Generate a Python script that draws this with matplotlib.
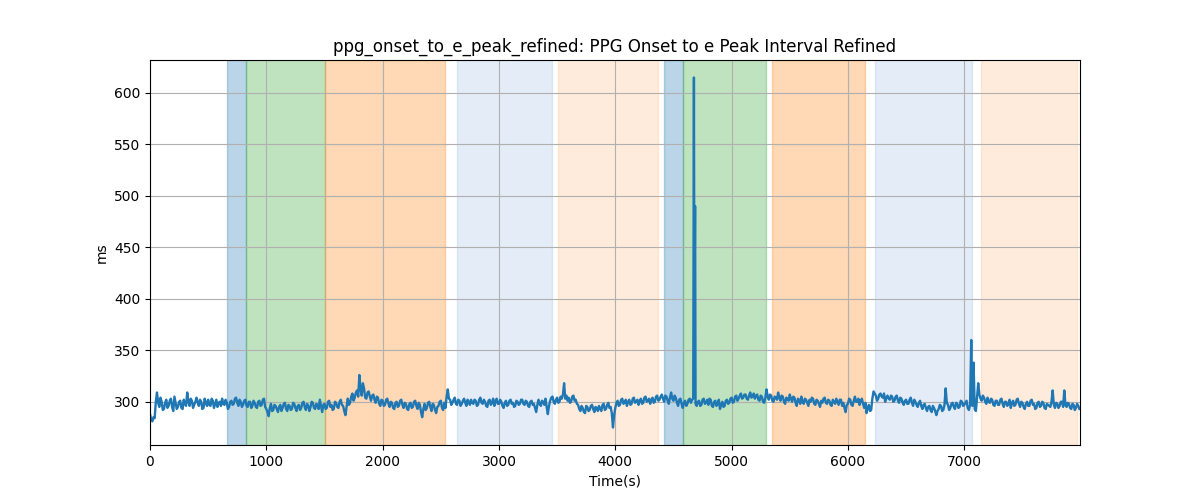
import numpy as np
import matplotlib
matplotlib.use('Agg')
import matplotlib.pyplot as plt

# ── Data ─────────────────────────────────────────────────────────────────────
STEP = 20  # seconds between samples in each list; the "mid" list is offset by 10 s
values = [
    288, 281, 284, 309, 295, 300, 293, 302, 296, 303, 291, 299, 295, 301, 293, 298, 309, 296, 301, 297,
    304, 296, 300, 294, 299, 302, 296, 301, 298, 295, 300, 303, 297, 299, 295, 301, 298, 304, 296, 300,
    297, 302, 295, 300, 296, 299, 294, 301, 297, 303, 293, 286, 298, 292, 296, 290, 297, 294, 299, 291,
    296, 293, 298, 291, 297, 294, 300, 292, 296, 295, 299, 293, 297, 302, 290, 298, 294, 301, 297, 293,
    299, 294, 302, 296, 287, 303, 299, 308, 304, 311, 326, 306, 313, 303, 310, 301, 307, 299, 304, 296,
    301, 297, 303, 295, 299, 293, 300, 296, 302, 294, 298, 292, 299, 295, 301, 293, 297, 285, 298, 294,
    300, 291, 297, 289, 296, 301, 292, 294, 312, 302, 299, 304, 297, 301, 298, 303, 296, 300, 302, 298,
    301, 297, 304, 298, 300, 295, 302, 299, 296, 303, 298, 300, 294, 301, 297, 302, 299, 296, 300, 298,
    302, 297, 300, 295, 301, 298, 290, 302, 296, 300, 303, 288, 301, 305, 298, 304, 300, 303, 318, 306,
    304, 300, 306, 302, 297, 291, 294, 289, 295, 292, 297, 290, 294, 296, 291, 298, 293, 299, 295, 275,
    294, 301, 297, 303, 299, 296, 302, 298, 304, 300, 297, 303, 299, 305, 301, 298, 304, 300, 306, 302,
    307, 300, 305, 298, 309, 301, 304, 296, 303, 294, 301, 298, 303, 302, 372, 296, 301, 297, 303, 299,
    297, 302, 295, 301, 298, 293, 300, 296, 302, 299, 304, 300, 306, 303, 308, 304, 307, 302, 309, 305,
    303, 307, 301, 305, 299, 312, 302, 306, 300, 304, 309, 301, 305, 298, 303, 307, 300, 304, 296, 302,
    305, 298, 302, 296, 300, 303, 297, 301, 295, 299, 304, 298, 301, 296, 300, 303, 297, 302, 299, 290,
    298, 302, 296, 305, 300, 297, 303, 294, 289, 297, 292, 310, 306, 303, 308, 304, 300, 306, 302, 305,
    301, 306, 299, 303, 297, 302, 298, 304, 296, 300, 295, 301, 293, 298, 291, 296, 290, 294, 287, 293,
    296, 292, 313, 297, 294, 299, 293, 298, 295, 300, 297, 301, 292, 360, 338, 291, 318, 303, 306, 300,
    304, 299, 302, 296, 301, 297, 303, 295, 300, 298, 294, 301, 297, 303, 295, 299, 293, 300, 296, 302,
    298, 294, 300, 296, 299, 293, 297, 295, 311, 294, 298, 296, 300, 311, 295, 298, 293, 297, 294, 296,
]
values_mid = [
    283, 285, 300, 299, 304, 292, 299, 294, 301, 295, 305, 293, 300, 294, 302, 296, 300, 303, 294, 300,
    299, 302, 293, 303, 296, 297, 303, 294, 302, 299, 296, 298, 302, 293, 300, 297, 303, 299, 302, 295,
    301, 296, 300, 294, 301, 295, 300, 296, 302, 295, 290, 294, 291, 297, 293, 295, 291, 298, 293, 297,
    292, 299, 294, 296, 292, 299, 295, 298, 291, 300, 294, 298, 293, 296, 297, 293, 300, 295, 292, 300,
    295, 300, 297, 291, 295, 297, 305, 301, 309, 305, 312, 318, 304, 309, 305, 306, 302, 305, 298, 302,
    296, 302, 298, 300, 294, 299, 295, 301, 297, 299, 293, 298, 294, 300, 296, 299, 290, 293, 292, 299,
    295, 298, 292, 295, 300, 294, 299, 305, 303, 297, 302, 298, 302, 296, 301, 299, 302, 297, 299, 302,
    296, 302, 299, 302, 296, 301, 297, 303, 300, 298, 302, 296, 299, 296, 301, 298, 295, 301, 297, 302,
    298, 301, 296, 300, 297, 294, 297, 298, 301, 297, 295, 296, 304, 300, 302, 299, 305, 307, 303, 301,
    299, 305, 301, 298, 293, 296, 290, 296, 291, 296, 293, 295, 291, 293, 297, 292, 297, 294, 289, 287,
    299, 296, 302, 298, 302, 300, 297, 303, 299, 302, 301, 298, 304, 300, 303, 302, 299, 305, 301, 305,
    303, 306, 301, 304, 303, 306, 299, 302, 298, 299, 296, 302, 299, 303, 298, 300, 296, 302, 298, 302,
    303, 296, 300, 296, 302, 297, 295, 301, 298, 303, 299, 305, 301, 306, 303, 307, 303, 306, 304, 308,
    306, 302, 306, 300, 304, 305, 307, 301, 305, 302, 304, 306, 300, 304, 301, 303, 305, 299, 303, 298,
    300, 303, 299, 302, 304, 298, 302, 298, 301, 303, 299, 302, 297, 302, 298, 300, 302, 296, 294, 297,
    303, 297, 301, 300, 303, 301, 298, 299, 294, 291, 303, 308, 301, 307, 305, 308, 304, 303, 306, 300,
    305, 301, 304, 299, 301, 298, 302, 299, 302, 297, 299, 296, 297, 294, 295, 292, 296, 291, 291, 297,
    291, 297, 299, 292, 298, 295, 299, 294, 301, 296, 299, 294, 297, 296, 293, 305, 307, 301, 304, 298,
    300, 303, 297, 301, 297, 302, 298, 300, 296, 302, 299, 296, 302, 298, 300, 295, 298, 296, 301, 297,
    293, 299, 295, 300, 294, 298, 296, 300, 297, 299, 294, 300, 295, 297, 299, 294, 298, 292, 298, 293,
]
# artefact spike around 4680 s
spike_t = [4676, 4686]
spike_v = [615, 490]

# shaded segments: (start, end, colour, alpha)
seg_start = [662, 822, 1507, 2640, 3505, 4420, 4586, 5347, 6234, 7145]
seg_end   = [822, 1507, 2533, 3454, 4365, 4586, 5294, 6145, 7065, 7968]
seg_color = ['tab:blue', 'tab:green', 'tab:orange', '#4b80ca', 'tab:orange',
             'tab:blue', 'tab:green', 'tab:orange', '#4b80ca', 'tab:orange']
seg_alpha = [0.3, 0.3, 0.3, 0.15, 0.15, 0.3, 0.3, 0.3, 0.15, 0.15]

# ── Build series ─────────────────────────────────────────────────────────────
t = np.concatenate([np.arange(len(values)) * STEP,
                    np.arange(len(values_mid)) * STEP + STEP // 2,
                    spike_t])
v = np.concatenate([values, values_mid, spike_v])
order = np.argsort(t, kind='stable')
t, v = t[order], v[order]

# ── Plot ─────────────────────────────────────────────────────────────────────
fig, ax = plt.subplots(figsize=(12, 5), dpi=100)
for s, e, c, a in zip(seg_start, seg_end, seg_color, seg_alpha):
    ax.axvspan(s, e, color=c, alpha=a)
ax.plot(t, v, color='tab:blue', linewidth=1.7)

ax.set_xlim(0, 7995)
ax.set_title('ppg_onset_to_e_peak_refined: PPG Onset to e Peak Interval Refined')
ax.set_xlabel('Time(s)')
ax.set_ylabel('ms')
ax.grid(True)
fig.savefig('out.png', dpi=100)
